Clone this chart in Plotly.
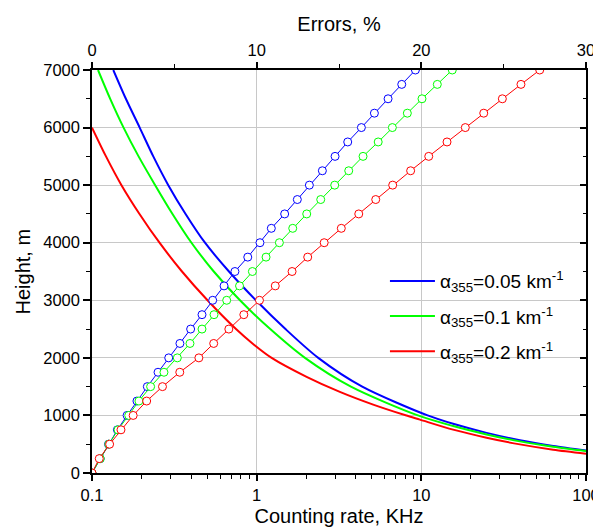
import plotly.graph_objects as go

# Errors (%) vs height (top axis)
heights_err = [0, 250, 500, 750, 1000, 1250, 1500, 1750, 2000, 2250, 2500, 2750, 3000, 3250,
               3500, 3750, 4000, 4250, 4500, 4750, 5000, 5250, 5500, 5750, 6000, 6250, 6500,
               6750, 7000]
err_005 = [0, 0.5, 1.0, 1.54, 2.13, 2.73, 3.36, 4.01, 4.66, 5.34, 5.99, 6.68, 7.33, 8.02,
           8.68, 9.46, 10.2, 10.89, 11.7, 12.47, 13.2, 13.99, 14.76, 15.53, 16.36, 17.15,
           17.98, 18.81, 19.64]
err_01 = [0, 0.5, 1.02, 1.58, 2.23, 2.85, 3.56, 4.37, 5.18, 5.95, 6.68, 7.41, 8.18, 8.96,
          9.74, 10.57, 11.38, 12.19, 13.04, 13.89, 14.74, 15.59, 16.46, 17.38, 18.24, 19.15,
          20.04, 20.97, 21.88]
err_02 = [0, 0.44, 1.07, 1.76, 2.5, 3.32, 4.28, 5.33, 6.49, 7.39, 8.31, 9.22, 10.17, 11.13,
          12.15, 13.1, 14.1, 15.14, 16.2, 17.23, 18.26, 19.35, 20.45, 21.56, 22.67, 23.79,
          24.92, 26.05, 27.19]

# Counting rate (KHz) vs height (bottom axis)
h_005 = [7000, 6500, 6000, 5500, 5000, 4500, 4000, 3500, 3000, 2500, 2000, 1500, 1000,
         854, 697, 570, 470, 390]
rate_005 = [0.1347, 0.1606, 0.1948, 0.2356, 0.2906, 0.3701, 0.4855, 0.6789, 0.990, 1.496,
            2.366, 4.377, 10.92, 15.6, 24.9, 39.7, 63.2, 100]
h_01 = [7000, 6500, 6000, 5500, 5000, 4500, 4000, 3500, 3000, 2500, 2000, 1500, 1000,
        815, 670, 549, 456, 381]
rate_01 = [0.1088, 0.1290, 0.1555, 0.1918, 0.2419, 0.3082, 0.4018, 0.5489, 0.7918, 1.209,
           1.965, 3.737, 9.535, 15.6, 24.9, 39.7, 63.2, 100]
h_02 = [6000, 5500, 5000, 4500, 4000, 3500, 3000, 2500, 2250, 2000, 1671, 1409, 1188, 1002,
        927, 753, 613, 497, 404, 336]
rate_02 = [0.100, 0.1216, 0.151, 0.1943, 0.257, 0.352, 0.503, 0.749, 0.943, 1.233, 2.01,
           3.2, 5.1, 8.03, 9.81, 15.6, 24.9, 39.7, 63.2, 100]

labels = ["α<sub>355</sub>=0.05 km<sup>-1</sup>",
          "α<sub>355</sub>=0.1 km<sup>-1</sup>",
          "α<sub>355</sub>=0.2 km<sup>-1</sup>"]
colors = ["#0000FF", "#00FF00", "#FF0000"]
legend_ids = ["legend", "legend2", "legend3"]
legend_y = [0.476, 0.389, 0.302]

fig = go.Figure()
fig.add_trace(go.Scatter(x=[None], y=[None], xaxis="x", yaxis="y2", showlegend=False,
                         hoverinfo="skip", mode="lines"))

for h, r, lab, c, lg in zip([h_005, h_01, h_02], [rate_005, rate_01, rate_02], labels,
                            colors, legend_ids):
    fig.add_trace(go.Scatter(x=r, y=h, mode="lines", name=lab, legend=lg,
                             line=dict(color=c, width=2, shape="spline", smoothing=0.8),
                             xaxis="x", yaxis="y"))

for e, c in zip([err_005, err_01, err_02], colors):
    fig.add_trace(go.Scatter(x=e, y=heights_err, mode="lines+markers", showlegend=False,
                             line=dict(color=c, width=1),
                             marker=dict(symbol="circle", size=8, color="white",
                                         line=dict(color=c, width=1)),
                             xaxis="x2", yaxis="y"))

axis_common = dict(showline=True, linewidth=1.5, linecolor="black", zeroline=False,
                   tickcolor="black", tickwidth=1.5, automargin=False,
                   tickfont=dict(size=16.5))

legend_common = dict(x=0.593, xanchor="left", yanchor="middle", bgcolor="rgba(0,0,0,0)",
                     font=dict(size=19), itemwidth=45)

fig.update_layout(
    width=593, height=521,
    margin=dict(l=84, r=15, t=62, b=56),
    paper_bgcolor="white", plot_bgcolor="white",
    font=dict(family="Arial, Liberation Sans, sans-serif", size=17, color="black"),
    xaxis=dict(type="log", range=[-1, 2], tickmode="array", tickvals=[0.1, 1, 10, 100],
               ticktext=["0.1", "1", "10", "100"], ticks="outside", ticklen=6,
               showgrid=True, gridcolor="#c8c8c8", gridwidth=1,
               minor=dict(ticks="outside", ticklen=4, tickwidth=1, tickcolor="black",
                          dtick="D1", showgrid=False),
               title=dict(text="Counting rate, KHz", font=dict(size=20), standoff=6),
               **axis_common),
    xaxis2=dict(overlaying="x", side="top", anchor="y", range=[0, 30], tickmode="array",
                tickvals=[0, 10, 20, 30], ticks="outside", ticklen=6, showgrid=False,
                minor=dict(ticks="outside", ticklen=4, tickwidth=1, tickcolor="black",
                           tickvals=[5, 15, 25], showgrid=False),
                title=dict(text="Errors, %", font=dict(size=20), standoff=4),
                **axis_common),
    yaxis=dict(range=[0, 7000], tickmode="linear", tick0=0, dtick=1000, ticks="outside",
               ticklen=7, showgrid=True, gridcolor="#c8c8c8", gridwidth=1,
               minor=dict(ticks="outside", ticklen=4, tickwidth=1, tickcolor="black",
                          dtick=500, showgrid=False),
               **axis_common),
    yaxis2=dict(overlaying="y", side="right", anchor="x", range=[0, 7000], tickmode="linear",
                tick0=0, dtick=1000, ticks="inside", ticklen=6, showticklabels=False,
                showgrid=False,
                minor=dict(ticks="inside", ticklen=3, tickwidth=1, tickcolor="black",
                           dtick=500, showgrid=False),
                **axis_common),
    annotations=[dict(text="Height, m", x=-0.1417, y=0.5, xref="paper", yref="paper",
                      xanchor="center", yanchor="middle", textangle=-90, showarrow=False,
                      font=dict(size=20))],
    legend=dict(y=legend_y[0], **legend_common),
    legend2=dict(y=legend_y[1], **legend_common),
    legend3=dict(y=legend_y[2], **legend_common),
    showlegend=True,
)

fig.write_html("out.html")
